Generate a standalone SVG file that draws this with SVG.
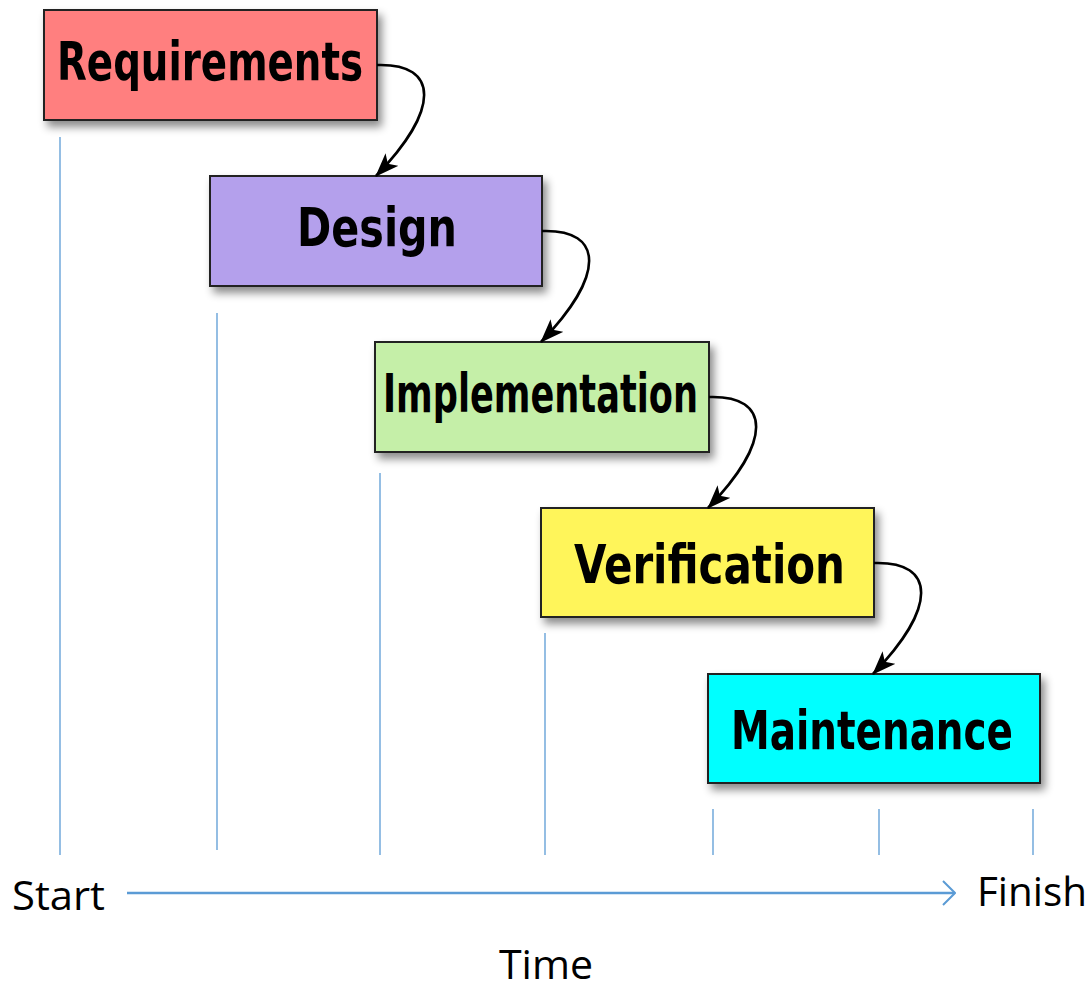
<svg xmlns="http://www.w3.org/2000/svg" width="1092" height="991" viewBox="0 0 1092 991">
<defs>
<filter id="sh" x="-10%" y="-20%" width="125%" height="150%">
<feDropShadow dx="4" dy="6" stdDeviation="4" flood-color="#000" flood-opacity="0.45"/>
</filter>
<marker id="ah" viewBox="0 0 24 18" refX="23" refY="9" markerWidth="24" markerHeight="18" markerUnits="userSpaceOnUse" orient="auto">
<path d="M0,0 L24,9 L0,18 L6,9 Z" fill="#000"/>
</marker>
<marker id="oa" viewBox="0 0 14 26" refX="13" refY="13" markerWidth="14" markerHeight="26" markerUnits="userSpaceOnUse" orient="auto">
<path d="M1,1 L13,13 L1,25" fill="none" stroke="#5b9bd5" stroke-width="2"/>
</marker>
</defs>
<style>
.box{stroke:#222;stroke-width:2;filter:url(#sh)}
.lbl{font-family:"DejaVu Sans Condensed","DejaVu Sans",sans-serif;font-weight:bold;font-size:54px;fill:#000}
.tl{stroke:#5b9bd5;stroke-width:1.3;fill:none}
.ax{font-family:"Open Sans","Liberation Sans",sans-serif;font-size:40px;fill:#000}
.con{stroke:#000;stroke-width:2.6;fill:none}
</style>
<rect width="1092" height="991" fill="#fff"/>
<g id="timeline">
<line class="tl" x1="60" y1="137" x2="60" y2="855"/>
<line class="tl" x1="217" y1="313" x2="217" y2="850"/>
<line class="tl" x1="380" y1="473" x2="380" y2="855"/>
<line class="tl" x1="545" y1="633" x2="545" y2="855"/>
<line class="tl" x1="713" y1="809" x2="713" y2="855"/>
<line class="tl" x1="879" y1="809" x2="879" y2="855"/>
<line class="tl" x1="1033" y1="809" x2="1033" y2="855"/>
<line x1="127" y1="893" x2="955" y2="893" stroke="#5b9bd5" stroke-width="2.5" marker-end="url(#oa)"/>
<text class="ax" x="12" y="910" textLength="93" lengthAdjust="spacingAndGlyphs">Start</text>
<text class="ax" x="977" y="906" textLength="110" lengthAdjust="spacingAndGlyphs">Finish</text>
<text class="ax" x="499" y="979" textLength="94" lengthAdjust="spacingAndGlyphs">Time</text>
</g>
<g id="n-requirements">
<rect class="box" x="44" y="10" width="333" height="110" fill="#ff7f7f"/>
<text class="lbl" x="57" y="80" textLength="306" lengthAdjust="spacingAndGlyphs">Requirements</text>
</g>
<g id="n-design">
<rect class="box" x="210" y="176" width="332" height="110" fill="#b4a0ec"/>
<text class="lbl" x="297" y="246" textLength="160" lengthAdjust="spacingAndGlyphs">Design</text>
</g>
<g id="n-implementation">
<rect class="box" x="375" y="342" width="334" height="110" fill="#c5efa8"/>
<text class="lbl" x="383" y="412" textLength="315" lengthAdjust="spacingAndGlyphs">Implementation</text>
</g>
<g id="n-verification">
<rect class="box" x="541" y="508" width="333" height="109" fill="#fff55a"/>
<text class="lbl" x="574" y="583" textLength="271" lengthAdjust="spacingAndGlyphs">Verification</text>
</g>
<g id="n-maintenance">
<rect class="box" x="708" y="674" width="332" height="109" fill="#00ffff"/>
<text class="lbl" x="731" y="749" textLength="282" lengthAdjust="spacingAndGlyphs">Maintenance</text>
</g>
<g id="connectors">
<path class="con" d="M377,65 C440,63 440,110 376,176" marker-end="url(#ah)"/>
<path class="con" d="M542,231 C605,229 605,276 541,342" marker-end="url(#ah)"/>
<path class="con" d="M709,397 C772,395 772,442 708,508" marker-end="url(#ah)"/>
<path class="con" d="M874,563 C937,561 937,608 873,674" marker-end="url(#ah)"/>
</g>
</svg>
